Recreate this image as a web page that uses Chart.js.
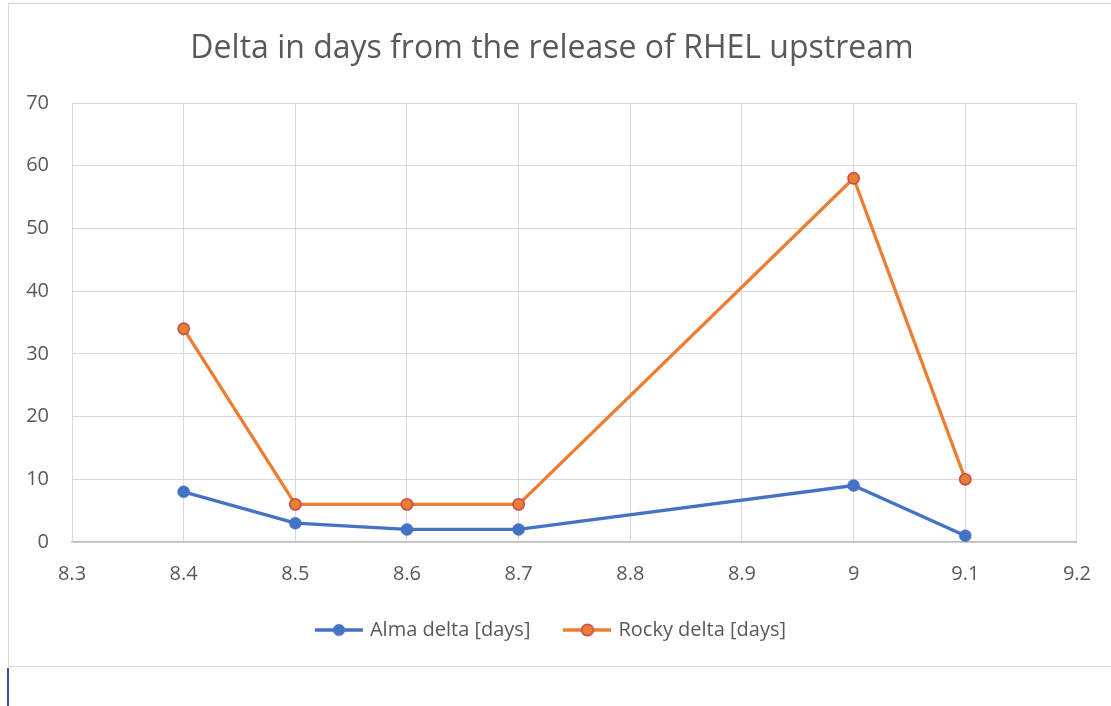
<!DOCTYPE html>
<html>
<head>
<meta charset="utf-8">
<script src="https://cdn.jsdelivr.net/npm/chart.js@4"></script>
<style>
  html, body { margin: 0; padding: 0; background: #fff; width: 1111px; height: 706px; overflow: hidden; }
  .frame { position: absolute; left: 8px; top: 3px; width: 1102px; height: 662px; border: 1px solid #d9d9d9; border-right: none; }
  .wrap { position: absolute; left: 9px; top: 4px; width: 1102px; height: 662px; }
  .cursor { position: absolute; left: 7px; top: 668px; width: 2px; height: 38px; background: #2f5597; }
</style>
</head>
<body>
<div class="frame"></div>
<div class="wrap"><canvas id="chart"></canvas></div>
<div class="cursor"></div>
<script>
// release versions on the x axis
const versions = [8.4, 8.5, 8.6, 8.7, 9, 9.1];
const almaDelta = [8, 3, 2, 2, 9, 1];
const rockyDelta = [34, 6, 6, 6, 58, 10];
const xTicks = [8.3, 8.4, 8.5, 8.6, 8.7, 8.8, 8.9, 9, 9.1, 9.2];
const yTicks = [0, 10, 20, 30, 40, 50, 60, 70];

const ALMA = '#4472c4';
const ROCKY = '#ed7d31';
const ROCKY_EDGE = '#c0504d';
const TEXT = '#595959';
const GRID = '#d9d9d9';
const FONT = '"Open Sans", sans-serif';

// legend swatch: short line with the marker in the middle
function legendSwatch(color, fill, edge, edgeWidth) {
  const c = document.createElement('canvas');
  c.width = 48;
  c.height = 16;
  const ctx = c.getContext('2d');
  ctx.strokeStyle = color;
  ctx.lineWidth = 3.3;
  ctx.beginPath();
  ctx.moveTo(0, 8);
  ctx.lineTo(48, 8);
  ctx.stroke();
  ctx.beginPath();
  ctx.arc(24, 8, 5.8, 0, Math.PI * 2);
  ctx.fillStyle = fill;
  ctx.fill();
  ctx.lineWidth = edgeWidth;
  ctx.strokeStyle = edge;
  ctx.stroke();
  return c;
}

const toPoints = (ys) => versions.map((x, i) => ({ x, y: ys[i] }));

new Chart(document.getElementById('chart'), {
  type: 'scatter',
  data: {
    datasets: [
      {
        label: 'Alma delta [days]',
        data: toPoints(almaDelta),
        showLine: true,
        borderColor: ALMA,
        backgroundColor: ALMA,
        borderWidth: 3.3,
        pointRadius: 6,
        pointBorderWidth: 0.5,
        pointBorderColor: ALMA,
        pointBackgroundColor: ALMA,
        legendSwatch: legendSwatch(ALMA, ALMA, ALMA, 0.5)
      },
      {
        label: 'Rocky delta [days]',
        data: toPoints(rockyDelta),
        showLine: true,
        borderColor: ROCKY,
        backgroundColor: ROCKY,
        borderWidth: 3.3,
        pointRadius: 5.6,
        pointBorderWidth: 1.6,
        pointBorderColor: ROCKY_EDGE,
        pointBackgroundColor: ROCKY,
        legendSwatch: legendSwatch(ROCKY, ROCKY, ROCKY_EDGE, 1.6)
      }
    ]
  },
  options: {
    responsive: true,
    maintainAspectRatio: false,
    animation: false,
    layout: { padding: { left: 15, right: 31, top: 0, bottom: 16 } },
    plugins: {
      tooltip: { enabled: false },
      title: {
        display: true,
        text: 'Delta in days from the release of RHEL upstream',
        color: TEXT,
        font: { family: FONT, size: 32, weight: 'normal' },
        padding: { top: 26, bottom: 34.6 }
      },
      legend: {
        position: 'bottom',
        labels: {
          color: TEXT,
          font: { family: FONT, size: 20 },
          usePointStyle: true,
          pointStyleWidth: 42,
          padding: 36,
          generateLabels(chart) {
            return chart.data.datasets.map((ds, i) => ({
              text: ds.label,
              pointStyle: ds.legendSwatch,
              fillStyle: ds.backgroundColor,
              strokeStyle: ds.borderColor,
              lineWidth: 0,
              fontColor: TEXT,
              hidden: false,
              datasetIndex: i
            }));
          }
        }
      }
    },
    scales: {
      x: {
        type: 'linear',
        min: 8.3,
        max: 9.2,
        afterBuildTicks(scale) {
          scale.ticks = xTicks.map((v) => ({ value: v }));
        },
        afterFit(scale) {
          scale.height = 42;
        },
        grid: { color: GRID, lineWidth: 1, drawTicks: false },
        border: { color: '#bfbfbf', width: 1.5 },
        ticks: {
          color: TEXT,
          font: { family: FONT, size: 20 },
          padding: 20,
          callback: (v) => String(parseFloat(Number(v).toFixed(1)))
        }
      },
      y: {
        min: 0,
        max: 70,
        afterBuildTicks(scale) {
          scale.ticks = yTicks.map((v) => ({ value: v }));
        },
        afterFit(scale) {
          scale.width = 48;
        },
        grid: { color: GRID, lineWidth: 1, drawTicks: false },
        border: { color: GRID, width: 1 },
        ticks: {
          color: TEXT,
          font: { family: FONT, size: 20 },
          padding: 23
        }
      }
    }
  }
});
</script>
</body>
</html>
